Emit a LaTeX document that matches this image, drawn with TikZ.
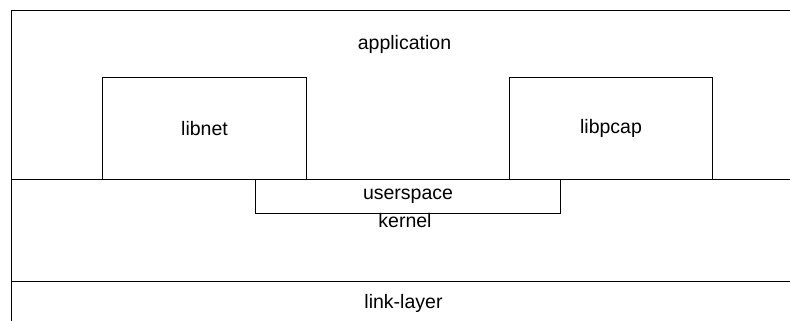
\documentclass[tikz,border=0pt]{standalone}
\usepackage{fontspec}
\setmainfont{Liberation Sans}
\begin{document}
\begin{tikzpicture}[x=1bp,y=-1bp,
  line/.style={draw=black,line width=1bp},
  box/.style={line,rectangle,inner sep=0pt,anchor=north west,font=\fontsize{19.5bp}{22bp}\selectfont},
  lbl/.style={inner sep=0pt,anchor=base,font=\fontsize{19.5bp}{22bp}\selectfont}]
\clip (0,0) rectangle (790,320);
\fill[white] (0,0) rectangle (790,320);
% layers
\coordinate (tl) at (11,10);
\coordinate (tr) at (800,10);
\coordinate (bl) at (11,330);
\coordinate (kl) at (11,179);
\coordinate (kr) at (800,179);
\coordinate (ll) at (11,281);
\coordinate (lr) at (800,281);
\draw[line] (tr) -- (tl) -- (bl);
\draw[line] (kl) -- (kr);
\draw[line] (ll) -- (lr);
% boxes
\node[box,minimum width=204bp,minimum height=102bp] (libnet) at (102,77) {libnet};
\node[box,minimum width=203bp,minimum height=102bp] (libpcap) at (509,77) {libpcap};
\node[box,minimum width=305bp,minimum height=34bp] (userspace) at (255,179) {userspace};
% labels
\node[lbl] (application) at (404.5,49) {application};
\node[lbl] (kernel) at (405,227) {kernel};
\node[lbl] (linklayer) at (403.5,308) {link-layer};
\end{tikzpicture}
\end{document}
